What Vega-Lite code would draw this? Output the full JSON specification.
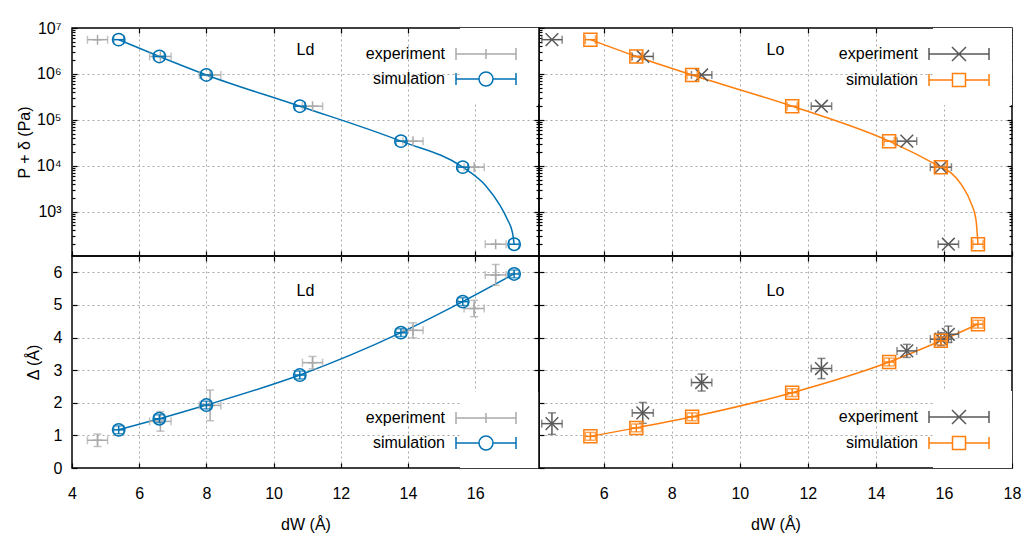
{
  "$schema": "https://vega.github.io/schema/vega-lite/v6.json",
  "padding": {"left": 15, "top": 19, "right": 5, "bottom": 5},
  "datasets": {
    "ld": [
      {"series": "experiment", "dw": 4.76, "dw_lo": 4.46, "dw_hi": 5.06, "p": 5570000, "delta": 0.85, "delta_lo": 0.66, "delta_hi": 1.04},
      {"series": "experiment", "dw": 6.63, "dw_lo": 6.31, "dw_hi": 6.95, "p": 2400000, "delta": 1.43, "delta_lo": 1.13, "delta_hi": 1.73},
      {"series": "experiment", "dw": 8.11, "dw_lo": 7.79, "dw_hi": 8.43, "p": 950000, "delta": 1.92, "delta_lo": 1.45, "delta_hi": 2.39},
      {"series": "experiment", "dw": 11.16, "dw_lo": 10.86, "dw_hi": 11.46, "p": 198000, "delta": 3.23, "delta_lo": 3.04, "delta_hi": 3.42},
      {"series": "experiment", "dw": 14.15, "dw_lo": 13.85, "dw_hi": 14.45, "p": 34300, "delta": 4.22, "delta_lo": 3.99, "delta_hi": 4.45},
      {"series": "experiment", "dw": 15.97, "dw_lo": 15.67, "dw_hi": 16.27, "p": 9300, "delta": 4.89, "delta_lo": 4.64, "delta_hi": 5.14},
      {"series": "experiment", "dw": 16.61, "dw_lo": 16.3, "dw_hi": 16.92, "p": 195, "delta": 5.92, "delta_lo": 5.6, "delta_hi": 6.24},
      {"series": "simulation", "dw": 5.39, "dw_lo": 5.24, "dw_hi": 5.54, "p": 5570000, "delta": 1.17, "delta_lo": 1.05, "delta_hi": 1.29},
      {"series": "simulation", "dw": 6.6, "dw_lo": 6.45, "dw_hi": 6.75, "p": 2400000, "delta": 1.51, "delta_lo": 1.39, "delta_hi": 1.63},
      {"series": "simulation", "dw": 8.0, "dw_lo": 7.85, "dw_hi": 8.15, "p": 950000, "delta": 1.93, "delta_lo": 1.81, "delta_hi": 2.05},
      {"series": "simulation", "dw": 10.78, "dw_lo": 10.63, "dw_hi": 10.93, "p": 198000, "delta": 2.85, "delta_lo": 2.73, "delta_hi": 2.97},
      {"series": "simulation", "dw": 13.79, "dw_lo": 13.64, "dw_hi": 13.94, "p": 34300, "delta": 4.15, "delta_lo": 4.03, "delta_hi": 4.27},
      {"series": "simulation", "dw": 15.63, "dw_lo": 15.48, "dw_hi": 15.78, "p": 9300, "delta": 5.1, "delta_lo": 4.98, "delta_hi": 5.22},
      {"series": "simulation", "dw": 17.16, "dw_lo": 17.01, "dw_hi": 17.31, "p": 195, "delta": 5.95, "delta_lo": 5.83, "delta_hi": 6.07}
    ],
    "lo": [
      {"series": "experiment", "dw": 4.48, "dw_lo": 4.18, "dw_hi": 4.78, "p": 5570000, "delta": 1.36, "delta_lo": 1.03, "delta_hi": 1.69},
      {"series": "experiment", "dw": 7.15, "dw_lo": 6.84, "dw_hi": 7.46, "p": 2400000, "delta": 1.69, "delta_lo": 1.37, "delta_hi": 2.01},
      {"series": "experiment", "dw": 8.88, "dw_lo": 8.58, "dw_hi": 9.18, "p": 950000, "delta": 2.62, "delta_lo": 2.36, "delta_hi": 2.88},
      {"series": "experiment", "dw": 12.4, "dw_lo": 12.1, "dw_hi": 12.7, "p": 198000, "delta": 3.05, "delta_lo": 2.74, "delta_hi": 3.36},
      {"series": "experiment", "dw": 14.91, "dw_lo": 14.62, "dw_hi": 15.2, "p": 34300, "delta": 3.59, "delta_lo": 3.39, "delta_hi": 3.79},
      {"series": "experiment", "dw": 15.91, "dw_lo": 15.6, "dw_hi": 16.22, "p": 9300, "delta": 3.95, "delta_lo": 3.75, "delta_hi": 4.15},
      {"series": "experiment", "dw": 16.13, "dw_lo": 15.83, "dw_hi": 16.43, "p": 195, "delta": 4.1, "delta_lo": 3.85, "delta_hi": 4.35},
      {"series": "simulation", "dw": 5.61, "dw_lo": 5.46, "dw_hi": 5.76, "p": 5570000, "delta": 0.97, "delta_lo": 0.85, "delta_hi": 1.09},
      {"series": "simulation", "dw": 6.96, "dw_lo": 6.81, "dw_hi": 7.11, "p": 2400000, "delta": 1.23, "delta_lo": 1.11, "delta_hi": 1.35},
      {"series": "simulation", "dw": 8.6, "dw_lo": 8.45, "dw_hi": 8.75, "p": 950000, "delta": 1.57, "delta_lo": 1.45, "delta_hi": 1.69},
      {"series": "simulation", "dw": 11.54, "dw_lo": 11.39, "dw_hi": 11.69, "p": 198000, "delta": 2.31, "delta_lo": 2.19, "delta_hi": 2.43},
      {"series": "simulation", "dw": 14.39, "dw_lo": 14.24, "dw_hi": 14.54, "p": 34300, "delta": 3.25, "delta_lo": 3.13, "delta_hi": 3.37},
      {"series": "simulation", "dw": 15.91, "dw_lo": 15.76, "dw_hi": 16.06, "p": 9300, "delta": 3.9, "delta_lo": 3.78, "delta_hi": 4.02},
      {"series": "simulation", "dw": 17.0, "dw_lo": 16.85, "dw_hi": 17.15, "p": 195, "delta": 4.41, "delta_lo": 4.29, "delta_hi": 4.53}
    ],
    "ld_fit": [
      {"dw": 5.39, "p": 5570000}, {"dw": 6.6, "p": 2400000}, {"dw": 8.0, "p": 950000},
      {"dw": 10.78, "p": 198000}, {"dw": 13.79, "p": 34300}, {"dw": 15.63, "p": 9300},
      {"dw": 16.32, "p": 3630}, {"dw": 16.72, "p": 1445}, {"dw": 16.96, "p": 676},
      {"dw": 17.11, "p": 347}, {"dw": 17.16, "p": 195}
    ],
    "lo_fit": [
      {"dw": 5.61, "p": 5570000}, {"dw": 6.96, "p": 2400000}, {"dw": 8.6, "p": 950000},
      {"dw": 11.54, "p": 198000}, {"dw": 14.39, "p": 34300}, {"dw": 15.91, "p": 9300},
      {"dw": 16.2, "p": 7050}, {"dw": 16.54, "p": 3630}, {"dw": 16.79, "p": 1585},
      {"dw": 16.94, "p": 676}, {"dw": 17.0, "p": 195}
    ]
  },
  "columns": 2,
  "spacing": 0,
  "bounds": "flush",
  "concat": [
    {
      "width": 467, "height": 228,
      "title": {"text": "Ld", "offset": -38},
      "resolve": {"axis": {"x": "independent", "y": "independent"}},
      "layer": [
        {
          "data": {"name": "ld_fit"},
          "mark": {"type": "line", "color": "#0072b2", "strokeWidth": 1.5, "interpolate": "monotone"},
          "encoding": {
            "x": {"field": "dw", "type": "quantitative", "scale": {"domain": [4, 17.9], "nice": false, "zero": false}, "axis": {"orient": "bottom", "values": [4, 6, 8, 10, 12, 14, 16], "labels": false, "title": null}},
            "y": {"field": "p", "type": "quantitative", "scale": {"type": "log", "domain": [108, 10000000], "nice": false}, "axis": {"orient": "left", "values": [1000, 10000, 100000, 1000000, 10000000], "labelExpr": "'10' + replace(replace(replace(replace(replace(format(log(datum.value)/log(10),'.0f'),'3','³'),'4','⁴'),'5','⁵'),'6','⁶'),'7','⁷')", "labelPadding": 16, "title": "P + δ (Pa)", "titlePadding": 4}}
          }
        },
        {
          "data": {"name": "ld"}, "transform": [{"filter": "datum.series === 'experiment'"}],
          "mark": {"type": "errorbar", "color": "#aaaaaa", "thickness": 1.5, "ticks": {"size": 8, "thickness": 1.5}},
          "encoding": {
            "x": {"field": "dw_lo", "type": "quantitative", "scale": {"domain": [4, 17.9], "nice": false, "zero": false}, "axis": null},
            "x2": {"field": "dw_hi"},
            "y": {"field": "p", "type": "quantitative", "scale": {"type": "log", "domain": [108, 10000000], "nice": false}, "axis": null}
          }
        },
        {
          "data": {"name": "ld"}, "transform": [{"filter": "datum.series === 'experiment'"}],
          "mark": {"type": "point", "shape": "M-1,0H1M0,-1V1", "size": 100, "filled": false, "color": "#aaaaaa", "strokeWidth": 1.5, "opacity": 1},
          "encoding": {
            "x": {"field": "dw", "type": "quantitative", "scale": {"domain": [4, 17.9], "nice": false, "zero": false}, "axis": {"orient": "top", "values": [6, 8, 10, 12, 14, 16], "labels": false, "title": null, "grid": true}},
            "y": {"field": "p", "type": "quantitative", "scale": {"type": "log", "domain": [108, 10000000], "nice": false}, "axis": {"orient": "right", "values": [1000, 10000, 100000, 1000000], "labels": false, "title": null, "grid": true}}
          }
        },
        {
          "data": {"name": "ld"}, "transform": [{"filter": "datum.series === 'simulation'"}],
          "mark": {"type": "errorbar", "color": "#0072b2", "thickness": 1.5, "ticks": {"size": 9, "thickness": 1.5}},
          "encoding": {
            "x": {"field": "dw_lo", "type": "quantitative", "scale": {"domain": [4, 17.9], "nice": false, "zero": false}, "axis": null},
            "x2": {"field": "dw_hi"},
            "y": {"field": "p", "type": "quantitative", "scale": {"type": "log", "domain": [108, 10000000], "nice": false}, "axis": null}
          }
        },
        {
          "data": {"name": "ld"}, "transform": [{"filter": "datum.series === 'simulation'"}],
          "mark": {"type": "point", "shape": "circle", "size": 154, "filled": false, "color": "#0072b2", "strokeWidth": 1.5, "opacity": 1},
          "encoding": {
            "x": {"field": "dw", "type": "quantitative", "scale": {"domain": [4, 17.9], "nice": false, "zero": false}, "axis": null},
            "y": {"field": "p", "type": "quantitative", "scale": {"type": "log", "domain": [108, 10000000], "nice": false}, "axis": {"orient": "left", "values": [200, 300, 400, 500, 600, 700, 800, 900, 2000, 3000, 4000, 5000, 6000, 7000, 8000, 9000, 20000, 30000, 40000, 50000, 60000, 70000, 80000, 90000, 200000, 300000, 400000, 500000, 600000, 700000, 800000, 900000, 2000000, 3000000, 4000000, 5000000, 6000000, 7000000, 8000000, 9000000], "labels": false, "title": null, "tickSize": -3}}
          }
        },
        {
          "data": {"name": "ld"},
          "mark": {"type": "point", "filled": false, "opacity": 0},
          "encoding": {
            "x": {"field": "dw", "type": "quantitative", "scale": {"domain": [4, 17.9], "nice": false, "zero": false}, "axis": null},
            "y": {"field": "p", "type": "quantitative", "scale": {"type": "log", "domain": [108, 10000000], "nice": false}, "axis": {"orient": "right", "values": [200, 300, 400, 500, 600, 700, 800, 900, 2000, 3000, 4000, 5000, 6000, 7000, 8000, 9000, 20000, 30000, 40000, 50000, 60000, 70000, 80000, 90000, 200000, 300000, 400000, 500000, 600000, 700000, 800000, 900000, 2000000, 3000000, 4000000, 5000000, 6000000, 7000000, 8000000, 9000000], "labels": false, "title": null, "tickSize": -3}},
            "color": {"field": "series", "type": "nominal", "scale": {"domain": ["experiment", "simulation"], "range": ["#aaaaaa", "#0072b2"]}, "legend": {"title": null, "orient": "top-right", "offset": 0, "padding": 15, "fillColor": "white", "labelAlign": "right", "labelOffset": -52, "labelLimit": 0, "symbolSize": 400, "symbolStrokeWidth": 1.5, "symbolOpacity": 1, "rowPadding": 5}},
            "shape": {"field": "series", "type": "nominal", "scale": {"domain": ["experiment", "simulation"], "range": ["M-3,-0.6V0.6M-3,0H3M3,-0.6V0.6M0,-0.5V0.5M3.45,0", "M-3,-0.6V0.6M-3,0H-0.7M0.7,0H3M3,-0.6V0.6M-0.7,0A0.7,0.7,0,1,1,0.7,0A0.7,0.7,0,1,1,-0.7,0M3.45,0"]}, "legend": {"title": null, "orient": "top-right", "offset": 0, "padding": 15, "fillColor": "white", "labelAlign": "right", "labelOffset": -52, "labelLimit": 0, "symbolSize": 400, "symbolStrokeWidth": 1.5, "symbolOpacity": 1, "rowPadding": 5}}
          }
        }
      ]
    },
    {
      "width": 473, "height": 228,
      "title": {"text": "Lo", "offset": -31},
      "resolve": {"axis": {"x": "independent", "y": "independent"}},
      "layer": [
        {
          "data": {"name": "lo_fit"},
          "mark": {"type": "line", "color": "#ff7f0e", "strokeWidth": 1.5, "interpolate": "monotone"},
          "encoding": {
            "x": {"field": "dw", "type": "quantitative", "scale": {"domain": [4.1, 18], "nice": false, "zero": false}, "axis": {"orient": "bottom", "values": [6, 8, 10, 12, 14, 16, 18], "labels": false, "title": null}},
            "y": {"field": "p", "type": "quantitative", "scale": {"type": "log", "domain": [108, 10000000], "nice": false}, "axis": {"orient": "left", "values": [1000, 10000, 100000, 1000000, 10000000], "labels": false, "title": null}}
          }
        },
        {
          "data": {"name": "lo"}, "transform": [{"filter": "datum.series === 'experiment'"}],
          "mark": {"type": "errorbar", "color": "#595959", "thickness": 1.5, "ticks": {"size": 8, "thickness": 1.5}},
          "encoding": {
            "x": {"field": "dw_lo", "type": "quantitative", "scale": {"domain": [4.1, 18], "nice": false, "zero": false}, "axis": null},
            "x2": {"field": "dw_hi"},
            "y": {"field": "p", "type": "quantitative", "scale": {"type": "log", "domain": [108, 10000000], "nice": false}, "axis": null}
          }
        },
        {
          "data": {"name": "lo"}, "transform": [{"filter": "datum.series === 'experiment'"}],
          "mark": {"type": "point", "shape": "M-1,-1L1,1M-1,1L1,-1", "size": 160, "filled": false, "color": "#595959", "strokeWidth": 1.5, "opacity": 1},
          "encoding": {
            "x": {"field": "dw", "type": "quantitative", "scale": {"domain": [4.1, 18], "nice": false, "zero": false}, "axis": {"orient": "top", "values": [6, 8, 10, 12, 14, 16], "labels": false, "title": null, "grid": true}},
            "y": {"field": "p", "type": "quantitative", "scale": {"type": "log", "domain": [108, 10000000], "nice": false}, "axis": {"orient": "right", "values": [1000, 10000, 100000, 1000000], "labels": false, "title": null, "grid": true}}
          }
        },
        {
          "data": {"name": "lo"}, "transform": [{"filter": "datum.series === 'simulation'"}],
          "mark": {"type": "errorbar", "color": "#ff7f0e", "thickness": 1.5, "ticks": {"size": 9, "thickness": 1.5}},
          "encoding": {
            "x": {"field": "dw_lo", "type": "quantitative", "scale": {"domain": [4.1, 18], "nice": false, "zero": false}, "axis": null},
            "x2": {"field": "dw_hi"},
            "y": {"field": "p", "type": "quantitative", "scale": {"type": "log", "domain": [108, 10000000], "nice": false}, "axis": null}
          }
        },
        {
          "data": {"name": "lo"}, "transform": [{"filter": "datum.series === 'simulation'"}],
          "mark": {"type": "point", "shape": "square", "size": 169, "filled": false, "color": "#ff7f0e", "strokeWidth": 1.5, "opacity": 1},
          "encoding": {
            "x": {"field": "dw", "type": "quantitative", "scale": {"domain": [4.1, 18], "nice": false, "zero": false}, "axis": null},
            "y": {"field": "p", "type": "quantitative", "scale": {"type": "log", "domain": [108, 10000000], "nice": false}, "axis": {"orient": "left", "values": [200, 300, 400, 500, 600, 700, 800, 900, 2000, 3000, 4000, 5000, 6000, 7000, 8000, 9000, 20000, 30000, 40000, 50000, 60000, 70000, 80000, 90000, 200000, 300000, 400000, 500000, 600000, 700000, 800000, 900000, 2000000, 3000000, 4000000, 5000000, 6000000, 7000000, 8000000, 9000000], "labels": false, "title": null, "tickSize": -3}}
          }
        },
        {
          "data": {"name": "lo"},
          "mark": {"type": "point", "filled": false, "opacity": 0},
          "encoding": {
            "x": {"field": "dw", "type": "quantitative", "scale": {"domain": [4.1, 18], "nice": false, "zero": false}, "axis": null},
            "y": {"field": "p", "type": "quantitative", "scale": {"type": "log", "domain": [108, 10000000], "nice": false}, "axis": {"orient": "right", "values": [200, 300, 400, 500, 600, 700, 800, 900, 2000, 3000, 4000, 5000, 6000, 7000, 8000, 9000, 20000, 30000, 40000, 50000, 60000, 70000, 80000, 90000, 200000, 300000, 400000, 500000, 600000, 700000, 800000, 900000, 2000000, 3000000, 4000000, 5000000, 6000000, 7000000, 8000000, 9000000], "labels": false, "title": null, "tickSize": -3}},
            "color": {"field": "series", "type": "nominal", "scale": {"domain": ["experiment", "simulation"], "range": ["#595959", "#ff7f0e"]}, "legend": {"title": null, "orient": "top-right", "offset": 0, "padding": 15, "fillColor": "white", "labelAlign": "right", "labelOffset": -52, "labelLimit": 0, "symbolSize": 400, "symbolStrokeWidth": 1.5, "symbolOpacity": 1, "rowPadding": 5}},
            "shape": {"field": "series", "type": "nominal", "scale": {"domain": ["experiment", "simulation"], "range": ["M-3,-0.6V0.6M-3,0H3M3,-0.6V0.6M-0.7,-0.7L0.7,0.7M-0.7,0.7L0.7,-0.7M3.45,0", "M-3,-0.6V0.6M-3,0H-0.65M0.65,0H3M3,-0.6V0.6M-0.65,-0.65H0.65V0.65H-0.65ZM3.45,0"]}, "legend": {"title": null, "orient": "top-right", "offset": 0, "padding": 15, "fillColor": "white", "labelAlign": "right", "labelOffset": -52, "labelLimit": 0, "symbolSize": 400, "symbolStrokeWidth": 1.5, "symbolOpacity": 1, "rowPadding": 5}}
          }
        }
      ]
    },
    {
      "width": 467, "height": 212,
      "title": {"text": "Ld", "offset": -44},
      "resolve": {"axis": {"x": "independent", "y": "independent"}},
      "layer": [
        {
          "data": {"name": "ld"}, "transform": [{"filter": "datum.series === 'simulation'"}],
          "mark": {"type": "line", "color": "#0072b2", "strokeWidth": 1.5, "interpolate": "monotone"},
          "encoding": {
            "x": {"field": "dw", "type": "quantitative", "scale": {"domain": [4, 17.9], "nice": false, "zero": false}, "axis": {"orient": "bottom", "values": [4, 6, 8, 10, 12, 14, 16], "title": "dW (Å)"}},
            "y": {"field": "delta", "type": "quantitative", "scale": {"domain": [0, 6.5], "nice": false, "zero": false}, "axis": {"orient": "left", "values": [0, 1, 2, 3, 4, 5, 6], "labelPadding": 15, "title": "Δ (Å)", "titlePadding": 12}}
          }
        },
        {
          "data": {"name": "ld"}, "transform": [{"filter": "datum.series === 'experiment'"}],
          "mark": {"type": "errorbar", "color": "#aaaaaa", "thickness": 1.5, "ticks": {"size": 8, "thickness": 1.5}},
          "encoding": {
            "x": {"field": "dw_lo", "type": "quantitative", "scale": {"domain": [4, 17.9], "nice": false, "zero": false}, "axis": null},
            "x2": {"field": "dw_hi"},
            "y": {"field": "delta", "type": "quantitative", "scale": {"domain": [0, 6.5], "nice": false, "zero": false}, "axis": null}
          }
        },
        {
          "data": {"name": "ld"}, "transform": [{"filter": "datum.series === 'experiment'"}],
          "mark": {"type": "errorbar", "color": "#aaaaaa", "thickness": 1.5, "ticks": {"size": 8, "thickness": 1.5}},
          "encoding": {
            "y": {"field": "delta_lo", "type": "quantitative", "scale": {"domain": [0, 6.5], "nice": false, "zero": false}, "axis": null},
            "y2": {"field": "delta_hi"},
            "x": {"field": "dw", "type": "quantitative", "scale": {"domain": [4, 17.9], "nice": false, "zero": false}, "axis": null}
          }
        },
        {
          "data": {"name": "ld"}, "transform": [{"filter": "datum.series === 'experiment'"}],
          "mark": {"type": "point", "shape": "M-1,0H1M0,-1V1", "size": 100, "filled": false, "color": "#aaaaaa", "strokeWidth": 1.5, "opacity": 1},
          "encoding": {
            "x": {"field": "dw", "type": "quantitative", "scale": {"domain": [4, 17.9], "nice": false, "zero": false}, "axis": {"orient": "top", "values": [6, 8, 10, 12, 14, 16], "labels": false, "title": null, "grid": true}},
            "y": {"field": "delta", "type": "quantitative", "scale": {"domain": [0, 6.5], "nice": false, "zero": false}, "axis": {"orient": "right", "values": [1, 2, 3, 4, 5, 6], "labels": false, "title": null, "grid": true}}
          }
        },
        {
          "data": {"name": "ld"}, "transform": [{"filter": "datum.series === 'simulation'"}],
          "mark": {"type": "errorbar", "color": "#0072b2", "thickness": 1.5, "ticks": {"size": 9, "thickness": 1.5}},
          "encoding": {
            "x": {"field": "dw_lo", "type": "quantitative", "scale": {"domain": [4, 17.9], "nice": false, "zero": false}, "axis": null},
            "x2": {"field": "dw_hi"},
            "y": {"field": "delta", "type": "quantitative", "scale": {"domain": [0, 6.5], "nice": false, "zero": false}, "axis": null}
          }
        },
        {
          "data": {"name": "ld"}, "transform": [{"filter": "datum.series === 'simulation'"}],
          "mark": {"type": "errorbar", "color": "#0072b2", "thickness": 1.5, "ticks": {"size": 9, "thickness": 1.5}},
          "encoding": {
            "y": {"field": "delta_lo", "type": "quantitative", "scale": {"domain": [0, 6.5], "nice": false, "zero": false}, "axis": null},
            "y2": {"field": "delta_hi"},
            "x": {"field": "dw", "type": "quantitative", "scale": {"domain": [4, 17.9], "nice": false, "zero": false}, "axis": null}
          }
        },
        {
          "data": {"name": "ld"}, "transform": [{"filter": "datum.series === 'simulation'"}],
          "mark": {"type": "point", "shape": "circle", "size": 154, "filled": false, "color": "#0072b2", "strokeWidth": 1.5, "opacity": 1},
          "encoding": {
            "x": {"field": "dw", "type": "quantitative", "scale": {"domain": [4, 17.9], "nice": false, "zero": false}, "axis": null},
            "y": {"field": "delta", "type": "quantitative", "scale": {"domain": [0, 6.5], "nice": false, "zero": false}, "axis": null}
          }
        },
        {
          "data": {"name": "ld"},
          "mark": {"type": "point", "filled": false, "opacity": 0},
          "encoding": {
            "x": {"field": "dw", "type": "quantitative", "scale": {"domain": [4, 17.9], "nice": false, "zero": false}, "axis": null},
            "y": {"field": "delta", "type": "quantitative", "scale": {"domain": [0, 6.5], "nice": false, "zero": false}, "axis": null},
            "color": {"field": "series", "type": "nominal", "scale": {"domain": ["experiment", "simulation"], "range": ["#aaaaaa", "#0072b2"]}, "legend": {"title": null, "orient": "bottom-right", "offset": 0, "padding": 15, "fillColor": "white", "labelAlign": "right", "labelOffset": -52, "labelLimit": 0, "symbolSize": 400, "symbolStrokeWidth": 1.5, "symbolOpacity": 1, "rowPadding": 5}},
            "shape": {"field": "series", "type": "nominal", "scale": {"domain": ["experiment", "simulation"], "range": ["M-3,-0.6V0.6M-3,0H3M3,-0.6V0.6M0,-0.5V0.5M3.45,0", "M-3,-0.6V0.6M-3,0H-0.7M0.7,0H3M3,-0.6V0.6M-0.7,0A0.7,0.7,0,1,1,0.7,0A0.7,0.7,0,1,1,-0.7,0M3.45,0"]}, "legend": {"title": null, "orient": "bottom-right", "offset": 0, "padding": 15, "fillColor": "white", "labelAlign": "right", "labelOffset": -52, "labelLimit": 0, "symbolSize": 400, "symbolStrokeWidth": 1.5, "symbolOpacity": 1, "rowPadding": 5}}
          }
        }
      ]
    },
    {
      "width": 473, "height": 212,
      "title": {"text": "Lo", "offset": -44},
      "resolve": {"axis": {"x": "independent", "y": "independent"}},
      "layer": [
        {
          "data": {"name": "lo"}, "transform": [{"filter": "datum.series === 'simulation'"}],
          "mark": {"type": "line", "color": "#ff7f0e", "strokeWidth": 1.5, "interpolate": "monotone"},
          "encoding": {
            "x": {"field": "dw", "type": "quantitative", "scale": {"domain": [4.1, 18], "nice": false, "zero": false}, "axis": {"orient": "bottom", "values": [6, 8, 10, 12, 14, 16, 18], "title": "dW (Å)"}},
            "y": {"field": "delta", "type": "quantitative", "scale": {"domain": [0, 6.5], "nice": false, "zero": false}, "axis": {"orient": "left", "values": [0, 1, 2, 3, 4, 5, 6], "labels": false, "title": null}}
          }
        },
        {
          "data": {"name": "lo"}, "transform": [{"filter": "datum.series === 'experiment'"}],
          "mark": {"type": "errorbar", "color": "#595959", "thickness": 1.5, "ticks": {"size": 8, "thickness": 1.5}},
          "encoding": {
            "x": {"field": "dw_lo", "type": "quantitative", "scale": {"domain": [4.1, 18], "nice": false, "zero": false}, "axis": null},
            "x2": {"field": "dw_hi"},
            "y": {"field": "delta", "type": "quantitative", "scale": {"domain": [0, 6.5], "nice": false, "zero": false}, "axis": null}
          }
        },
        {
          "data": {"name": "lo"}, "transform": [{"filter": "datum.series === 'experiment'"}],
          "mark": {"type": "errorbar", "color": "#595959", "thickness": 1.5, "ticks": {"size": 8, "thickness": 1.5}},
          "encoding": {
            "y": {"field": "delta_lo", "type": "quantitative", "scale": {"domain": [0, 6.5], "nice": false, "zero": false}, "axis": null},
            "y2": {"field": "delta_hi"},
            "x": {"field": "dw", "type": "quantitative", "scale": {"domain": [4.1, 18], "nice": false, "zero": false}, "axis": null}
          }
        },
        {
          "data": {"name": "lo"}, "transform": [{"filter": "datum.series === 'experiment'"}],
          "mark": {"type": "point", "shape": "M-1,-1L1,1M-1,1L1,-1", "size": 160, "filled": false, "color": "#595959", "strokeWidth": 1.5, "opacity": 1},
          "encoding": {
            "x": {"field": "dw", "type": "quantitative", "scale": {"domain": [4.1, 18], "nice": false, "zero": false}, "axis": {"orient": "top", "values": [6, 8, 10, 12, 14, 16], "labels": false, "title": null, "grid": true}},
            "y": {"field": "delta", "type": "quantitative", "scale": {"domain": [0, 6.5], "nice": false, "zero": false}, "axis": {"orient": "right", "values": [1, 2, 3, 4, 5, 6], "labels": false, "title": null, "grid": true}}
          }
        },
        {
          "data": {"name": "lo"}, "transform": [{"filter": "datum.series === 'simulation'"}],
          "mark": {"type": "errorbar", "color": "#ff7f0e", "thickness": 1.5, "ticks": {"size": 9, "thickness": 1.5}},
          "encoding": {
            "x": {"field": "dw_lo", "type": "quantitative", "scale": {"domain": [4.1, 18], "nice": false, "zero": false}, "axis": null},
            "x2": {"field": "dw_hi"},
            "y": {"field": "delta", "type": "quantitative", "scale": {"domain": [0, 6.5], "nice": false, "zero": false}, "axis": null}
          }
        },
        {
          "data": {"name": "lo"}, "transform": [{"filter": "datum.series === 'simulation'"}],
          "mark": {"type": "errorbar", "color": "#ff7f0e", "thickness": 1.5, "ticks": {"size": 9, "thickness": 1.5}},
          "encoding": {
            "y": {"field": "delta_lo", "type": "quantitative", "scale": {"domain": [0, 6.5], "nice": false, "zero": false}, "axis": null},
            "y2": {"field": "delta_hi"},
            "x": {"field": "dw", "type": "quantitative", "scale": {"domain": [4.1, 18], "nice": false, "zero": false}, "axis": null}
          }
        },
        {
          "data": {"name": "lo"}, "transform": [{"filter": "datum.series === 'simulation'"}],
          "mark": {"type": "point", "shape": "square", "size": 169, "filled": false, "color": "#ff7f0e", "strokeWidth": 1.5, "opacity": 1},
          "encoding": {
            "x": {"field": "dw", "type": "quantitative", "scale": {"domain": [4.1, 18], "nice": false, "zero": false}, "axis": null},
            "y": {"field": "delta", "type": "quantitative", "scale": {"domain": [0, 6.5], "nice": false, "zero": false}, "axis": null}
          }
        },
        {
          "data": {"name": "lo"},
          "mark": {"type": "point", "filled": false, "opacity": 0},
          "encoding": {
            "x": {"field": "dw", "type": "quantitative", "scale": {"domain": [4.1, 18], "nice": false, "zero": false}, "axis": null},
            "y": {"field": "delta", "type": "quantitative", "scale": {"domain": [0, 6.5], "nice": false, "zero": false}, "axis": null},
            "color": {"field": "series", "type": "nominal", "scale": {"domain": ["experiment", "simulation"], "range": ["#595959", "#ff7f0e"]}, "legend": {"title": null, "orient": "bottom-right", "offset": 0, "padding": 15, "fillColor": "white", "labelAlign": "right", "labelOffset": -52, "labelLimit": 0, "symbolSize": 400, "symbolStrokeWidth": 1.5, "symbolOpacity": 1, "rowPadding": 5}},
            "shape": {"field": "series", "type": "nominal", "scale": {"domain": ["experiment", "simulation"], "range": ["M-3,-0.6V0.6M-3,0H3M3,-0.6V0.6M-0.7,-0.7L0.7,0.7M-0.7,0.7L0.7,-0.7M3.45,0", "M-3,-0.6V0.6M-3,0H-0.65M0.65,0H3M3,-0.6V0.6M-0.65,-0.65H0.65V0.65H-0.65ZM3.45,0"]}, "legend": {"title": null, "orient": "bottom-right", "offset": 0, "padding": 15, "fillColor": "white", "labelAlign": "right", "labelOffset": -52, "labelLimit": 0, "symbolSize": 400, "symbolStrokeWidth": 1.5, "symbolOpacity": 1, "rowPadding": 5}}
          }
        }
      ]
    }
  ],
  "resolve": {"scale": {"color": "independent", "shape": "independent"}, "legend": {"color": "independent", "shape": "independent"}},
  "config": {
    "font": "Liberation Sans",
    "background": "white",
    "view": {"stroke": "black", "strokeWidth": 1.5},
    "title": {"font": "Liberation Sans", "fontSize": 16, "fontWeight": "normal", "color": "black", "anchor": "middle"},
    "axis": {"domain": false, "grid": false, "gridColor": "#a8a8a8", "gridDash": [2, 3], "gridWidth": 1, "tickColor": "black", "tickWidth": 1.2, "tickSize": -5, "labelFont": "Liberation Sans", "labelFontSize": 16, "labelColor": "black", "labelPadding": 17, "titleFont": "Liberation Sans", "titleFontSize": 16, "titleFontWeight": "normal", "titleColor": "black"},
    "axisX": {"labelFlush": false},
    "axisBottom": {"labelPadding": 22, "titlePadding": 15},
    "legend": {"labelFont": "Liberation Sans", "labelFontSize": 16, "labelColor": "black"}
  }
}
